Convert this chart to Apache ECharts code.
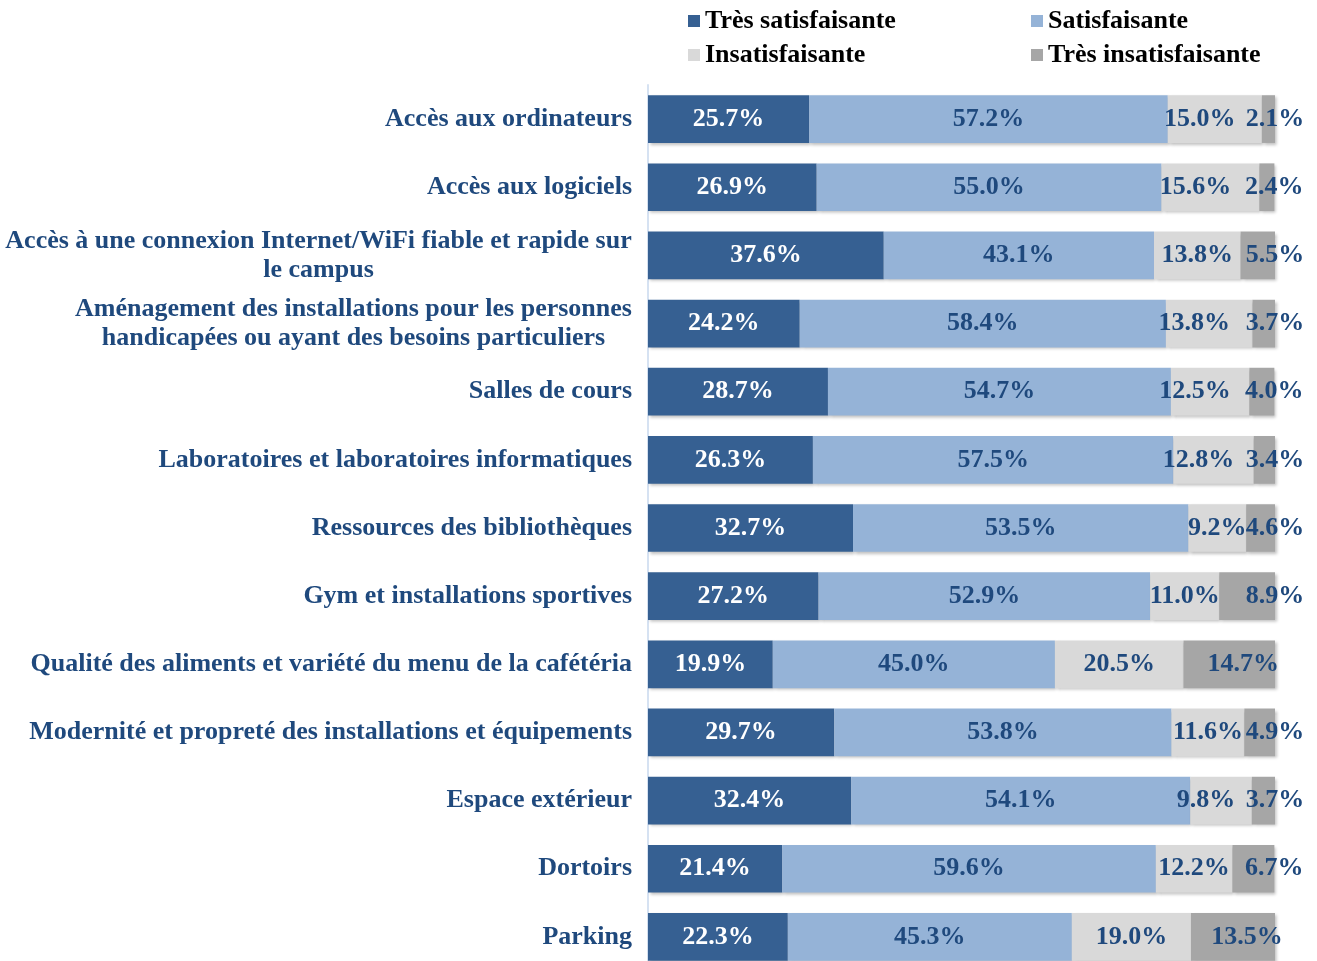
<!DOCTYPE html>
<html>
<head>
<meta charset="utf-8">
<script src="https://cdn.jsdelivr.net/npm/echarts@6/dist/echarts.min.js"></script>
<style>
  html, body { margin: 0; padding: 0; background: #fff; }
  #chart { width: 1317px; height: 961px; }
</style>
</head>
<body>
<div id="chart"></div>
<script>
// categories, top to bottom
var categories = [
  'Accès aux ordinateurs',
  'Accès aux logiciels',
  'Accès à une connexion Internet/WiFi fiable et rapide sur\nle campus',
  'Aménagement des installations pour les personnes\nhandicapées ou ayant des besoins particuliers',
  'Salles de cours',
  'Laboratoires et laboratoires informatiques',
  'Ressources des bibliothèques',
  'Gym et installations sportives',
  'Qualité des aliments et variété du menu de la cafétéria',
  'Modernité et propreté des installations et équipements',
  'Espace extérieur',
  'Dortoirs',
  'Parking'
];
var seriesNames = ['Très satisfaisante', 'Satisfaisante', 'Insatisfaisante', 'Très insatisfaisante'];
var tresSatisfaisante = [25.7, 26.9, 37.6, 24.2, 28.7, 26.3, 32.7, 27.2, 19.9, 29.7, 32.4, 21.4, 22.3];
var satisfaisante = [57.2, 55.0, 43.1, 58.4, 54.7, 57.5, 53.5, 52.9, 45.0, 53.8, 54.1, 59.6, 45.3];
var insatisfaisante = [15.0, 15.6, 13.8, 13.8, 12.5, 12.8, 9.2, 11.0, 20.5, 11.6, 9.8, 12.2, 19.0];
var tresInsatisfaisante = [2.1, 2.4, 5.5, 3.7, 4.0, 3.4, 4.6, 8.9, 14.7, 4.9, 3.7, 6.7, 13.5];

var colors = ['#366092', '#95b3d7', '#d9d9d9', '#a6a6a6'];
var fontFam = '"Liberation Serif", "Times New Roman", serif';
var textBlue = '#1f497d';
var fs = 26;

// 2-line labels: each gets its own rich style as wide as its longest line,
// so the lines are centred under each other
var cv = document.createElement('canvas').getContext('2d');
cv.font = 'bold ' + fs + 'px ' + fontFam;
var richStyles = {};
var richKey = {};
categories.forEach(function (c, i) {
  if (c.indexOf('\n') < 0) return;
  var w = 0;
  c.split('\n').forEach(function (l) { w = Math.max(w, cv.measureText(l).width); });
  richKey[c] = 'm' + i;
  richStyles['m' + i] = {
    width: Math.ceil(w),
    align: 'center',
    color: textBlue,
    fontFamily: fontFam,
    fontWeight: 'bold',
    fontSize: fs,
    lineHeight: 29
  };
});

var myChart = echarts.init(document.getElementById('chart'));

function mkSeries (idx, data) {
  // small end segments: labels pushed aside like in the original report
  var items = data.map(function (v, i) {
    if (idx === 2 && tresInsatisfaisante[i] < 4.5) {
      return { value: v, label: { offset: [-15, 0] } };
    }
    if (idx === 3) {
      if (v < 10) return { value: v, label: { position: ['100%', '50%'], align: 'center', verticalAlign: 'middle' } };
      return { value: v, label: { offset: [14, 0] } };
    }
    return v;
  });
  return {
    name: seriesNames[idx],
    type: 'bar',
    stack: 'total',
    barCategoryGap: '30%',
    data: items,
    itemStyle: {
      color: colors[idx],
      shadowColor: 'rgba(0,0,0,0.25)',
      shadowBlur: 3,
      shadowOffsetX: 2,
      shadowOffsetY: 2
    },
    label: {
      show: true,
      position: 'inside',
      formatter: function (p) { return p.value.toFixed(1) + '%'; },
      color: idx === 0 ? '#fff' : textBlue,
      fontFamily: fontFam,
      fontWeight: 'bold',
      fontSize: fs
    }
  };
}

var option = {
  animation: false,
  legend: {
    left: 688,
    top: 8,
    width: 690,
    padding: 0,
    itemWidth: 12,
    itemHeight: 12,
    itemGap: 8,
    icon: 'rect',
    data: seriesNames,
    textStyle: {
      fontFamily: fontFam,
      fontWeight: 'bold',
      fontSize: fs,
      color: '#000',
      width: 318,
      lineHeight: 24
    }
  },
  grid: { left: 648, right: 42, top: 85, height: 886, outerBoundsMode: 'none' },
  xAxis: {
    type: 'value',
    min: 0,
    max: 100,
    show: false
  },
  yAxis: {
    type: 'category',
    inverse: true,
    data: categories,
    axisTick: { show: false },
    axisLine: { show: true, lineStyle: { color: '#d6e2f2', width: 2 } },
    axisLabel: {
      margin: 16,
      color: textBlue,
      fontFamily: fontFam,
      fontWeight: 'bold',
      fontSize: fs,
      lineHeight: 29,
      formatter: function (v) {
        if (!richKey[v]) return v;
        return v.split('\n').map(function (l) { return '{' + richKey[v] + '|' + l + '}'; }).join('\n');
      },
      rich: richStyles
    }
  },
  series: [
    mkSeries(0, tresSatisfaisante),
    mkSeries(1, satisfaisante),
    mkSeries(2, insatisfaisante),
    mkSeries(3, tresInsatisfaisante)
  ]
};

myChart.setOption(option);
</script>
</body>
</html>
